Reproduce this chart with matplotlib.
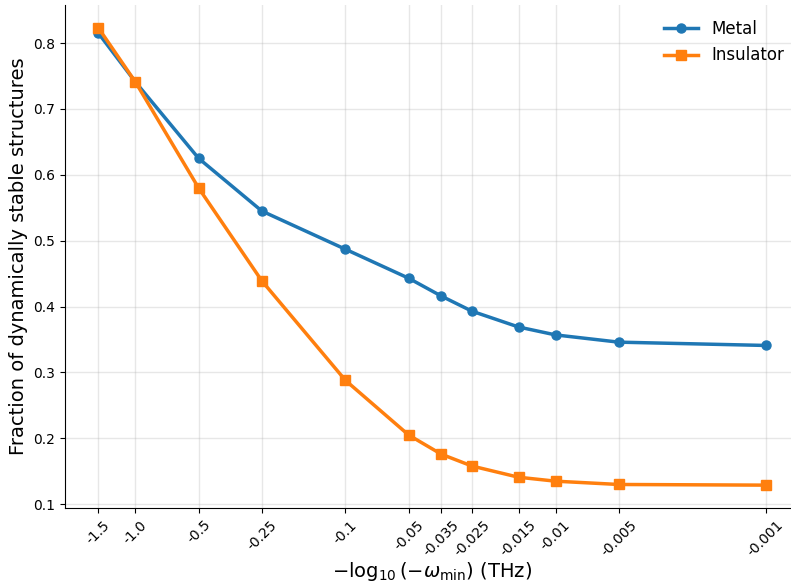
import numpy as np
import matplotlib
matplotlib.use("Agg")
import matplotlib.pyplot as plt

# Phonon stability threshold on omega_min (THz); plotted on a -log10 axis
thresholds = [-1.5, -1.0, -0.5, -0.25, -0.1, -0.05, -0.035, -0.025, -0.015, -0.01, -0.005, -0.001]
tick_labels = ["-1.5", "-1.0", "-0.5", "-0.25", "-0.1", "-0.05", "-0.035", "-0.025",
               "-0.015", "-0.01", "-0.005", "-0.001"]

metal_frac = [0.815, 0.741, 0.625, 0.545, 0.487, 0.443, 0.416, 0.393, 0.369, 0.357, 0.346, 0.341]
insulator_frac = [0.823, 0.741, 0.580, 0.439, 0.288, 0.205, 0.176, 0.158, 0.141, 0.135, 0.130, 0.129]

x = -np.log10(-np.array(thresholds))

fig = plt.figure(figsize=(7.91, 5.86), dpi=100)
ax = fig.add_axes([65 / 791, 78 / 586, 734 / 791, 503 / 586])

ax.plot(x, metal_frac, marker="o", color="#1f77b4", linewidth=2.5, markersize=6.5, label="Metal")
ax.plot(x, insulator_frac, marker="s", color="#ff7f0e", linewidth=2.5, markersize=6.5, label="Insulator")

ax.set_xticks(x)
ax.set_xticklabels(tick_labels, rotation=45, fontsize=10)
ax.tick_params(axis="y", labelsize=10)
ax.set_yticks([0.1, 0.2, 0.3, 0.4, 0.5, 0.6, 0.7, 0.8])

ax.set_xlabel(r"$-\log_{10}(-\omega_{\min})$ (THz)", fontsize=14, labelpad=1)
ax.set_ylabel("Fraction of dynamically stable structures", fontsize=14)

ax.grid(True, color="#b0b0b0", alpha=0.3, linewidth=1)
ax.spines["top"].set_visible(False)
ax.spines["right"].set_visible(False)

ax.legend(frameon=False, fontsize=12, loc="upper right", bbox_to_anchor=(1.0, 1.0))

fig.savefig("out.png", dpi=100)
